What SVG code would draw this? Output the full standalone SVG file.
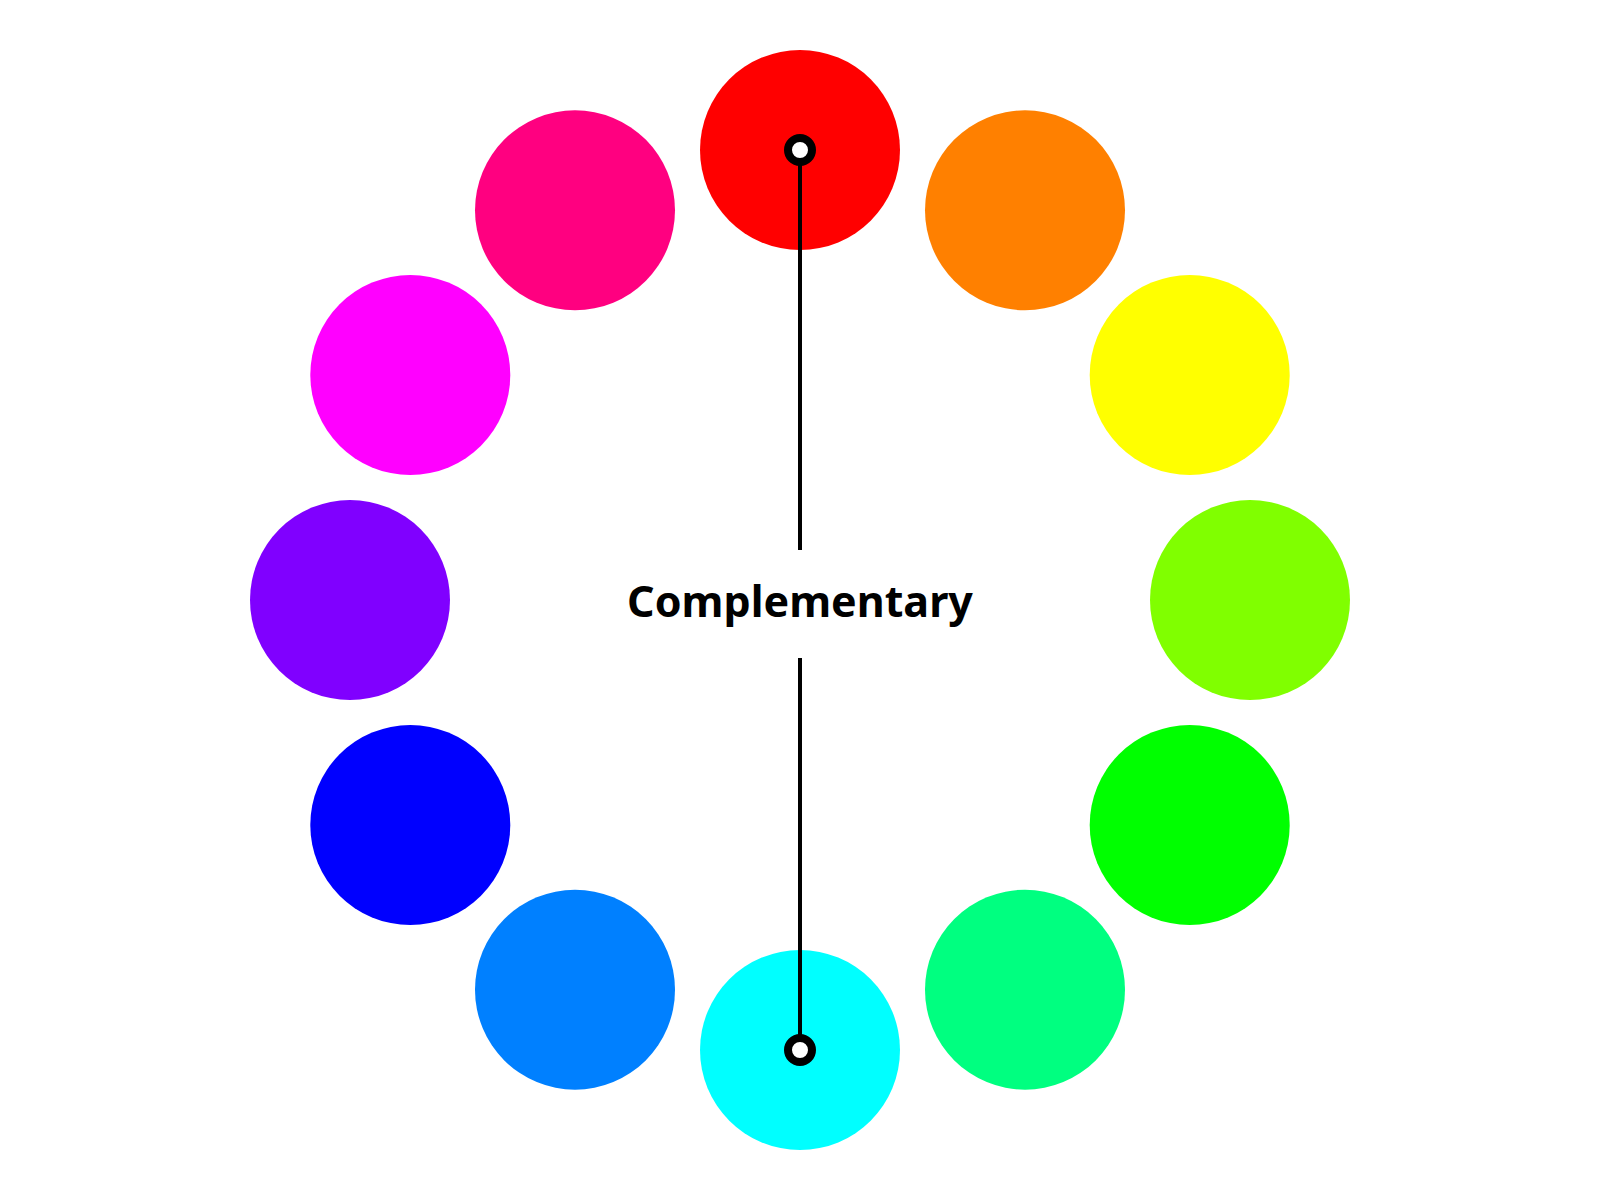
<svg xmlns="http://www.w3.org/2000/svg" width="1600" height="1200" viewBox="0 0 1600 1200">
<style>
.hue{stroke:none}
.link{stroke:#000;stroke-width:4;fill:none}
.pin{fill:#fff;stroke:#000;stroke-width:8}
.label{font-family:"Noto Sans","Open Sans",sans-serif;font-weight:700;font-size:43px;fill:#000;text-anchor:middle}
</style>
<rect width="1600" height="1200" fill="#fff"/>
<g id="hue-0"><circle class="hue" cx="800" cy="150" r="100" fill="#ff0000"/></g>
<g id="hue-30"><circle class="hue" cx="1025" cy="210.29" r="100" fill="#ff8000"/></g>
<g id="hue-60"><circle class="hue" cx="1189.71" cy="375" r="100" fill="#ffff00"/></g>
<g id="hue-90"><circle class="hue" cx="1250" cy="600" r="100" fill="#80ff00"/></g>
<g id="hue-120"><circle class="hue" cx="1189.71" cy="825" r="100" fill="#00ff00"/></g>
<g id="hue-150"><circle class="hue" cx="1025" cy="989.71" r="100" fill="#00ff80"/></g>
<g id="hue-180"><circle class="hue" cx="800" cy="1050" r="100" fill="#00ffff"/></g>
<g id="hue-210"><circle class="hue" cx="575" cy="989.71" r="100" fill="#0080ff"/></g>
<g id="hue-240"><circle class="hue" cx="410.29" cy="825" r="100" fill="#0000ff"/></g>
<g id="hue-270"><circle class="hue" cx="350" cy="600" r="100" fill="#8000ff"/></g>
<g id="hue-300"><circle class="hue" cx="410.29" cy="375" r="100" fill="#ff00ff"/></g>
<g id="hue-330"><circle class="hue" cx="575" cy="210.29" r="100" fill="#ff0080"/></g>
<g id="connectors">
<line class="link" x1="800" y1="150" x2="800" y2="550"/>
<line class="link" x1="800" y1="658" x2="800" y2="1050"/>
<circle class="pin" cx="800" cy="150" r="12"/>
<circle class="pin" cx="800" cy="1050" r="12"/>
</g>
<g id="label"><text class="label" x="800" y="617">Complementary</text></g>
</svg>
